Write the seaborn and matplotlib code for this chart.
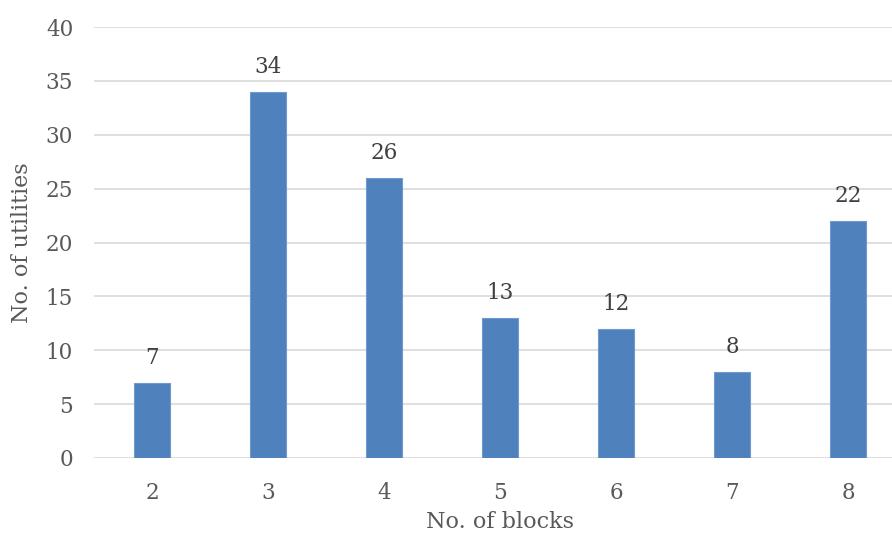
import matplotlib
matplotlib.use("Agg")
import matplotlib.pyplot as plt
import seaborn as sns
import pandas as pd

blocks = ["2", "3", "4", "5", "6", "7", "8"]
utilities = [7, 34, 26, 13, 12, 8, 22]
y_ticks = [0, 5, 10, 15, 20, 25, 30, 35, 40]

sns.set_theme(style="white")
plt.rcParams["font.family"] = ["DejaVu Serif"]

df = pd.DataFrame({"blocks": blocks, "utilities": utilities})

fig = plt.figure(figsize=(8.92, 5.37), dpi=100)
ax = fig.add_axes([94 / 892, 79 / 537, 812 / 892, 431 / 537])

sns.barplot(data=df, x="blocks", y="utilities", color="#4F81BD",
            width=0.31, saturation=1, edgecolor="#6E9AD0", linewidth=0.8,
            ax=ax, zorder=3)

ax.set_ylim(0, 40)
ax.set_xlim(-0.5, 6.5)
ax.set_yticks(y_ticks)
ax.yaxis.grid(True, color="#D9D9D9", linewidth=1.2, zorder=0)
ax.set_axisbelow(True)
for s in ax.spines.values():
    s.set_visible(False)
ax.tick_params(axis="both", length=0, labelsize=15.5, labelcolor="#595959")
ax.tick_params(axis="y", pad=15)
ax.tick_params(axis="x", pad=17)

for i, v in enumerate(utilities):
    ax.annotate(str(v), (i, v), xytext=(0, 10), textcoords="offset points",
                ha="center", va="bottom", fontsize=15.5, color="#404040")

ax.set_xlabel("No. of blocks", fontsize=16, color="#595959")
ax.set_ylabel("No. of utilities", fontsize=16, color="#595959")
ax.xaxis.set_label_coords(406 / 812, -64 / 431)
ax.xaxis.label.set_va("center")
ax.yaxis.set_label_coords(-72 / 812, 0.5)
ax.yaxis.label.set_va("center")

fig.savefig("out.png", dpi=100)
